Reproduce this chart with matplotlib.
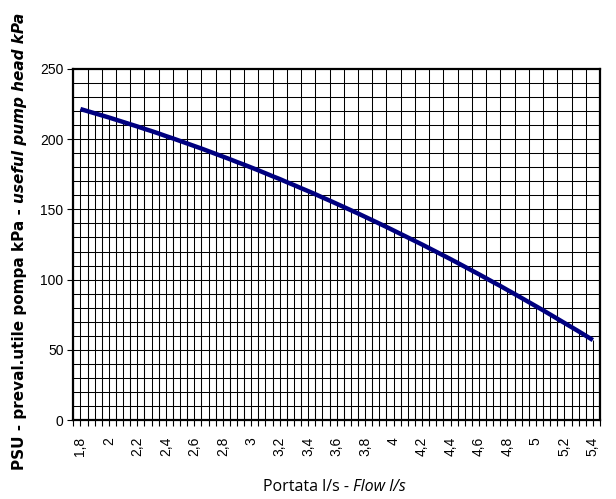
import numpy as np
import matplotlib
matplotlib.use('Agg')
import matplotlib.pyplot as plt
from matplotlib.ticker import MultipleLocator, FixedLocator, FixedFormatter

# portata (l/s), un punto ogni 0,05
flow = np.round(np.arange(1.8, 5.4001, 0.05), 2)
# prevalenza utile (kPa)
head = [221.4, 219.9, 218.4, 216.9, 215.4, 213.8, 212.2, 210.6, 209.0, 207.3,
        205.7, 204.0, 202.2, 200.5, 198.7, 196.9, 195.1, 193.3, 191.4, 189.5,
        187.6, 185.7, 183.7, 181.8, 179.8, 177.8, 175.7, 173.6, 171.6, 169.4,
        167.3, 165.1, 163.0, 160.8, 158.5, 156.3, 154.0, 151.7, 149.4, 147.1,
        144.7, 142.3, 139.9, 137.5, 135.0, 132.5, 130.0, 127.5, 125.0, 122.4,
        119.8, 117.2, 114.6, 111.9, 109.2, 106.5, 103.8, 101.0, 98.2, 95.5,
        92.6, 89.8, 86.9, 84.0, 81.1, 78.2, 75.2, 72.2, 69.2, 66.2,
        63.2, 60.1, 57.0]

x_ticks = [1.8, 2.0, 2.2, 2.4, 2.6, 2.8, 3.0, 3.2, 3.4, 3.6, 3.8, 4.0,
           4.2, 4.4, 4.6, 4.8, 5.0, 5.2, 5.4]
x_tick_labels = ['1,8', '2', '2,2', '2,4', '2,6', '2,8', '3', '3,2', '3,4', '3,6',
                 '3,8', '4', '4,2', '4,4', '4,6', '4,8', '5', '5,2', '5,4']
y_ticks = [0, 50, 100, 150, 200, 250]

fig = plt.figure(figsize=(6.16, 4.99), dpi=100)
ax = fig.add_axes([0.119, 0.158, 0.855, 0.704])

ax.set_xlim(1.75, 5.45)
ax.set_ylim(0, 250)

# griglia
for gx in np.arange(1.75, 5.46, 0.1):
    ax.axvline(gx, color='black', lw=0.75, zorder=1)
for gy in np.arange(10, 250, 10):
    ax.axhline(gy, color='black', lw=0.75, zorder=1)

# linee di proiezione sotto la curva
ax.vlines(flow, 0, head, color='black', lw=0.75, zorder=2)
ax.plot(flow, head, color='#000080', lw=3.2, solid_capstyle='butt', zorder=3)

ax.xaxis.set_major_locator(FixedLocator(x_ticks))
ax.xaxis.set_major_formatter(FixedFormatter(x_tick_labels))
ax.xaxis.set_minor_locator(MultipleLocator(0.05))
ax.set_yticks(y_ticks)
ax.tick_params(axis='x', which='both', direction='out', length=4, width=0.8,
               labelrotation=90, pad=8)
ax.tick_params(axis='y', which='major', direction='out', length=4, width=0.8, pad=3)
for lab in ax.get_xticklabels() + ax.get_yticklabels():
    lab.set_fontfamily('Liberation Sans')
    lab.set_fontsize(10)

for s in ax.spines.values():
    s.set_linewidth(1.6)
    s.set_zorder(4)

# titoli assi con parti in corsivo
fig.canvas.draw()
r = fig.canvas.get_renderer()
W, H = fig.bbox.width, fig.bbox.height

t1 = fig.text(0, 0, 'Portata l/s - ', family='Open Sans', fontsize=11.5)
t2 = fig.text(0, 0, 'Flow l/s', family='Open Sans', fontsize=11.5, style='italic')
w1 = t1.get_window_extent(r).width
w2 = t2.get_window_extent(r).width
cx = 334
ty = 499 - 491
t1.set_position(((cx - (w1 + w2) / 2) / W, ty / H))
t2.set_position(((cx - (w1 + w2) / 2 + w1) / W, ty / H))

y1 = fig.text(20 / W, 1 - 470 / H, 'PSU - preval.utile pompa kPa - ', family='DejaVu Sans',
              fontweight='bold', fontsize=11, rotation=90, ha='center', va='bottom')
h1 = y1.get_window_extent(r).height
y2 = fig.text(20 / W, (H - 470 + h1) / H, 'useful pump head kPa', family='DejaVu Sans',
              fontweight='bold', style='italic', fontsize=11, rotation=90,
              ha='center', va='bottom')

fig.savefig('out.png', dpi=100)
